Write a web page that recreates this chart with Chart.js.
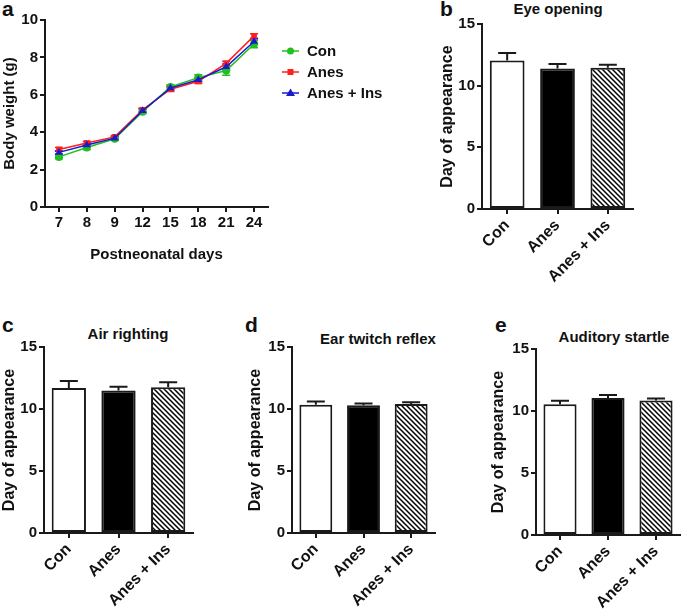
<!DOCTYPE html>
<html>
<head>
<meta charset="utf-8">
<script src="https://cdn.jsdelivr.net/npm/chart.js@4.4.0/dist/chart.umd.min.js"></script>
<style>
  body { margin: 0; width: 685px; height: 613px; background: #fff; position: relative; overflow: hidden;
         font-family: "Liberation Sans", Arial, sans-serif; }
  .panel { position: absolute; }
  .lbl { position: absolute; font-weight: bold; color: #111; white-space: nowrap; }
  .letter { font-size: 21px; line-height: 24px; }
  .ttl { font-size: 15px; line-height: 18px; transform: translateX(-50%); }
</style>
</head>
<body>

<div class="lbl letter" style="left:2px;top:-3px">a</div>
<div class="lbl letter" style="left:440px;top:-3px">b</div>
<div class="lbl letter" style="left:2px;top:313px">c</div>
<div class="lbl letter" style="left:245px;top:313px">d</div>
<div class="lbl letter" style="left:495px;top:313px">e</div>

<div class="lbl ttl" style="left:558px;top:0px">Eye opening</div>
<div class="lbl ttl" style="left:128px;top:325px">Air righting</div>
<div class="lbl ttl" style="left:378px;top:330px">Ear twitch reflex</div>
<div class="lbl ttl" style="left:614px;top:328px">Auditory startle</div>

<div class="panel" style="left:0;top:0;width:400px;height:270px"><canvas id="chartA"></canvas></div>
<div class="panel" style="left:438px;top:0;width:247px;height:300px"><canvas id="chartB"></canvas></div>
<div class="panel" style="left:0;top:315px;width:240px;height:298px"><canvas id="chartC"></canvas></div>
<div class="panel" style="left:246px;top:315px;width:230px;height:298px"><canvas id="chartD"></canvas></div>
<div class="panel" style="left:489px;top:315px;width:196px;height:298px"><canvas id="chartE"></canvas></div>

<script>
// panel a - body weight
const days = ['7', '8', '9', '12', '15', '18', '21', '24'];
const conWeight = [2.68, 3.18, 3.65, 5.1, 6.42, 6.92, 7.3, 8.72];
const conWeightErr = [0.1, 0.1, 0.08, 0.1, 0.12, 0.15, 0.25, 0.2];
const anesWeight = [3.08, 3.42, 3.75, 5.2, 6.3, 6.72, 7.68, 9.15];
const anesWeightErr = [0.1, 0.1, 0.08, 0.1, 0.12, 0.12, 0.12, 0.12];
const insWeight = [2.92, 3.32, 3.68, 5.15, 6.36, 6.8, 7.5, 8.85];
const insWeightErr = [0.08, 0.08, 0.08, 0.1, 0.1, 0.1, 0.15, 0.15];
const weightTicks = [0, 2, 4, 6, 8, 10];

// panels b-e - day of appearance
const groups = ['Con', 'Anes', 'Anes + Ins'];
const eyeOpening = [12.05, 11.4, 11.45];
const eyeOpeningErr = [0.6, 0.35, 0.25];
const airRighting = [11.7, 11.5, 11.75];
const airRightingErr = [0.55, 0.3, 0.4];
const earTwitch = [10.35, 10.3, 10.4];
const earTwitchErr = [0.25, 0.15, 0.15];
const auditoryStartle = [10.55, 11.05, 10.85];
const auditoryStartleErr = [0.28, 0.25, 0.15];
const dayTicks = [0, 5, 10, 15];

const family = '"Liberation Sans", Arial, sans-serif';
const ink = '#1a1a1a';
const green = '#1fc01f', red = '#ff1f1f', blue = '#1a1acc';

function hatch() {
  const c = document.createElement('canvas');
  c.width = c.height = 5;
  const g = c.getContext('2d');
  g.fillStyle = '#fff';
  g.fillRect(0, 0, 5, 5);
  g.strokeStyle = '#000';
  g.lineWidth = 1.5;
  g.beginPath();
  g.moveTo(-1, -1); g.lineTo(6, 6);
  g.moveTo(-1, 4); g.lineTo(1, 6);
  g.moveTo(4, -1); g.lineTo(6, 1);
  g.stroke();
  return g.createPattern(c, 'repeat');
}

function drawErrors(chart, opts) {
  const ctx = chart.ctx, y = chart.scales.y;
  chart.data.datasets.forEach((ds, i) => {
    if (!ds.errors) return;
    const meta = chart.getDatasetMeta(i);
    ctx.save();
    ctx.strokeStyle = ds.errColor || ink;
    ctx.lineWidth = opts.width;
    meta.data.forEach((el, j) => {
      const v = ds.data[j], e = ds.errors[j];
      const top = y.getPixelForValue(v + e);
      const bot = opts.both ? y.getPixelForValue(v - e) : el.y;
      ctx.beginPath();
      ctx.moveTo(el.x, top); ctx.lineTo(el.x, bot);
      ctx.moveTo(el.x - opts.cap, top); ctx.lineTo(el.x + opts.cap, top);
      if (opts.both) { ctx.moveTo(el.x - opts.cap, bot); ctx.lineTo(el.x + opts.cap, bot); }
      ctx.stroke();
    });
    ctx.restore();
  });
}

const errorBars = {
  id: 'errorBars',
  beforeDatasetsDraw(chart, args, opts) { if (opts.both) drawErrors(chart, opts); },
  afterDatasetsDraw(chart, args, opts) { if (!opts.both) drawErrors(chart, opts); }
};

function marker(ctx, style, x, y, color) {
  ctx.fillStyle = color;
  ctx.beginPath();
  if (style === 'circle') ctx.arc(x, y, 3.5, 0, Math.PI * 2);
  else if (style === 'rect') ctx.rect(x - 3, y - 3, 6, 6);
  else { ctx.moveTo(x, y - 4.5); ctx.lineTo(x + 4.5, y + 3); ctx.lineTo(x - 4.5, y + 3); ctx.closePath(); }
  ctx.fill();
}

// legend with line + marker, like the original
const sideLegend = {
  id: 'sideLegend',
  afterDraw(chart, args, opts) {
    const ctx = chart.ctx;
    chart.data.datasets.forEach((ds, i) => {
      const y = opts.y + i * opts.step;
      ctx.save();
      ctx.strokeStyle = ds.borderColor;
      ctx.lineWidth = 1.5;
      ctx.beginPath();
      ctx.moveTo(opts.x, y); ctx.lineTo(opts.x + 17, y);
      ctx.stroke();
      marker(ctx, ds.pointStyle, opts.x + 8.5, y, ds.borderColor);
      ctx.fillStyle = '#111';
      ctx.font = 'bold 15px ' + family;
      ctx.textBaseline = 'middle';
      ctx.fillText(ds.label, opts.x + 25, y + 1);
      ctx.restore();
    });
  }
};

function axis() {
  return {
    border: { display: true, color: ink, width: 2 },
    grid: { display: true, drawOnChartArea: false, drawTicks: true, tickLength: 5, color: ink, lineWidth: 2, offset: false },
    ticks: { color: '#111', font: { family: family, size: 15, weight: 'bold' }, padding: 2 }
  };
}

function lineSet(label, data, errors, color, style, order) {
  return {
    label: label, data: data, errors: errors, errColor: color,
    borderColor: color, backgroundColor: color, borderWidth: 1.5,
    pointStyle: style, pointRadius: style === 'triangle' ? 4.5 : 4, pointBorderWidth: 0,
    order: order
  };
}

const ax = axis(), ay = axis();
new Chart(document.getElementById('chartA'), {
  type: 'line',
  data: {
    labels: days,
    datasets: [
      lineSet('Con', conWeight, conWeightErr, green, 'circle', 2),
      lineSet('Anes', anesWeight, anesWeightErr, red, 'rect', 1),
      lineSet('Anes + Ins', insWeight, insWeightErr, blue, 'triangle', 0)
    ]
  },
  options: {
    responsive: true, maintainAspectRatio: false, animation: false,
    layout: { padding: { top: 20, right: 132, left: 0, bottom: 0 } },
    plugins: {
      legend: { display: false }, tooltip: { enabled: false },
      errorBars: { both: true, cap: 4, width: 1.5 },
      sideLegend: { x: 282, y: 51, step: 21 }
    },
    scales: {
      x: {
        ...ax, offset: true,
        ticks: { ...ax.ticks, maxRotation: 0, autoSkip: false },
        title: { display: true, text: 'Postneonatal days', color: '#111', font: { family: family, size: 15, weight: 'bold' }, padding: { top: 0, bottom: 6 } },
        afterFit: s => { s.height = 63; }
      },
      y: {
        ...ay, min: 0, max: 10,
        afterBuildTicks: s => { s.ticks = weightTicks.map(v => ({ value: v })); },
        title: { display: true, text: 'Body weight (g)', color: '#111', font: { family: family, size: 15, weight: 'bold' }, padding: { top: 1, bottom: 0 } },
        afterFit: s => { s.width = 45; }
      }
    }
  },
  plugins: [errorBars, sideLegend]
});

function barPanel(id, values, errors, pad, yWidth, xHeight) {
  const bx = axis(), by = axis();
  new Chart(document.getElementById(id), {
    type: 'bar',
    data: {
      labels: groups,
      datasets: [{
        data: values, errors: errors,
        backgroundColor: ['#ffffff', '#000000', hatch()],
        borderColor: ink, borderWidth: 2, borderSkipped: false,
        barPercentage: 0.69, categoryPercentage: 1
      }]
    },
    options: {
      responsive: true, maintainAspectRatio: false, animation: false,
      layout: { padding: pad },
      plugins: {
        legend: { display: false }, tooltip: { enabled: false },
        errorBars: { both: false, cap: 9, width: 2 }
      },
      scales: {
        x: {
          ...bx,
          ticks: { ...bx.ticks, font: { family: family, size: 16, weight: 'bold' }, minRotation: 45, maxRotation: 45, autoSkip: false },
          afterFit: s => { s.height = xHeight; }
        },
        y: {
          ...by, min: 0, max: 15,
          afterBuildTicks: s => { s.ticks = dayTicks.map(v => ({ value: v })); },
          title: { display: true, text: 'Day of appearance', color: '#111', font: { family: family, size: 16, weight: 'bold' }, padding: { top: 0, bottom: 0 } },
          afterFit: s => { s.width = yWidth; }
        }
      }
    },
    plugins: [errorBars]
  });
}

barPanel('chartB', eyeOpening, eyeOpeningErr, { top: 24, right: 52, left: 0, bottom: 0 }, 44, 91);
barPanel('chartC', airRighting, airRightingErr, { top: 32, right: 47, left: 0, bottom: 0 }, 44, 80);
barPanel('chartD', earTwitch, earTwitchErr, { top: 32, right: 41, left: 0, bottom: 0 }, 46, 80);
barPanel('chartE', auditoryStartle, auditoryStartleErr, { top: 34, right: 5, left: 0, bottom: 0 }, 47, 78);
</script>
</body>
</html>
